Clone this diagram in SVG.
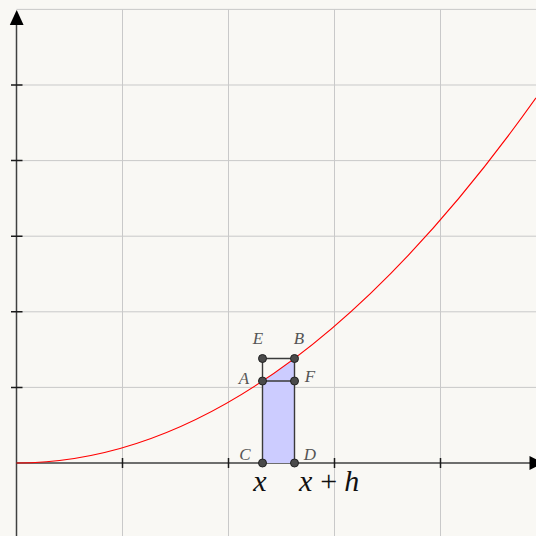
<svg xmlns="http://www.w3.org/2000/svg" width="536" height="536" viewBox="0 0 536 536">
<style>
.grid{stroke:#c9c9c9;stroke-width:1;fill:none}
.axis{stroke:#404040;stroke-width:1.5;fill:none}
.tick{stroke:#1a1a1a;stroke-width:1.5}
.seg{stroke:#3a3a3a;stroke-width:1.4;fill:none}
.pt{fill:#4a4a4a;stroke:#222;stroke-width:1}
.lbl{font-family:"Liberation Serif",serif;font-style:italic;font-size:17px;fill:#555}
.big{font-family:"Liberation Serif",serif;font-style:italic;font-size:30px;fill:#111}
</style>
<rect width="536" height="536" fill="#f9f8f4"/>
<g id="grid">
<path class="grid" d="M16.5 9.4H536M16.5 85H536M16.5 160.6H536M16.5 236.2H536M16.5 311.8H536M16.5 387.4H536M122.5 9.4V536M228.5 9.4V536M334.5 9.4V536M440.5 9.4V536"/>
</g>
<g id="axes">
<path class="axis" d="M16.5 536V20M16.5 463H534"/>
<polygon points="16.7,10 9.8,25 23.6,25" fill="#000"/>
<polygon points="544,463 529.5,456 529.5,470" fill="#000"/>
<path class="tick" d="M122.5 458V468M228.5 458V468M334.5 458V468M440.5 458V468M11 85H22.5M11 160.6H22.5M11 236.2H22.5M11 311.8H22.5M11 387.4H22.5"/>
</g>
<g id="area">
<path d="M262.5 463V381.1Q278.5 370.45 294.5 358.5V463Z" fill="#ccccff"/>
</g>
<g id="curve">
<path d="M16.5 463Q276.25 463 536 97.9" stroke="#ff0000" stroke-width="1.1" fill="none"/>
</g>
<g id="connectors">
<path class="seg" d="M262.5 463V358.5H294.5V463M262.5 381H294.5"/>
</g>
<g id="C"><circle class="pt" cx="262.5" cy="463" r="4"/><text class="lbl" x="245" y="460" text-anchor="middle">C</text></g>
<g id="D"><circle class="pt" cx="294.5" cy="463" r="4"/><text class="lbl" x="310" y="460" text-anchor="middle">D</text></g>
<g id="A"><circle class="pt" cx="262.5" cy="381" r="4"/><text class="lbl" x="244" y="384" text-anchor="middle">A</text></g>
<g id="F"><circle class="pt" cx="294.5" cy="381" r="4"/><text class="lbl" x="310" y="382" text-anchor="middle">F</text></g>
<g id="E"><circle class="pt" cx="262.5" cy="358.5" r="4"/><text class="lbl" x="258" y="344" text-anchor="middle">E</text></g>
<g id="B"><circle class="pt" cx="294.5" cy="358.5" r="4"/><text class="lbl" x="299" y="344" text-anchor="middle">B</text></g>
<g id="labels">
<text class="big" x="260" y="491" text-anchor="middle">x</text>
<text class="big" x="299" y="491">x<tspan font-style="normal" dx="8">+</tspan><tspan dx="7">h</tspan></text>
</g>
</svg>
